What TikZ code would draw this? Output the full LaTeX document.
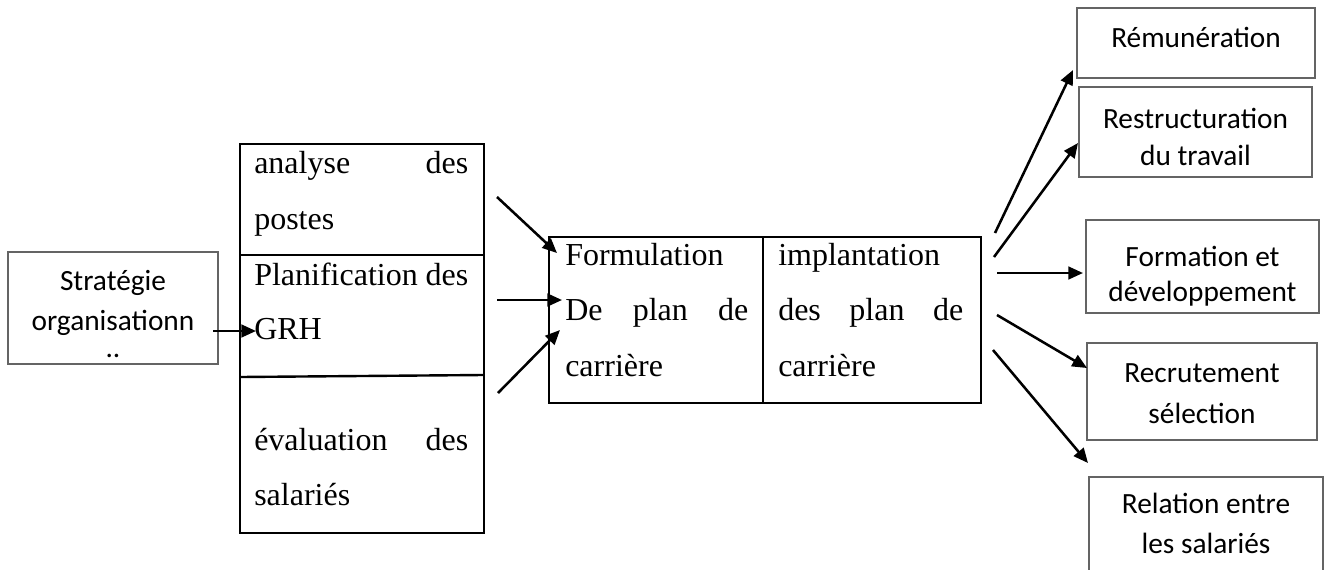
\documentclass[tikz,border=0pt]{standalone}
\usepackage{fontspec}
\setmainfont{Liberation Serif}
\newfontfamily\calibri{Carlito}
\usetikzlibrary{arrows.meta,fit}
\definecolor{boxgray}{RGB}{100,100,100}
\begin{document}
\begin{tikzpicture}[x=0.75pt,y=-0.75pt,
  thinbox/.style={draw=boxgray, line width=0.9pt, inner sep=0pt},
  thickbox/.style={draw=black, line width=1.8pt, inner sep=0pt},
  divider/.style={draw=black, line width=1.8pt},
  arr/.style={line width=1.9pt, -{Triangle[length=11pt,width=9.5pt]}},
  serif/.style={font=\fontsize{24}{28}\selectfont, inner sep=0pt, anchor=base west},
  sans/.style={font=\calibri\fontsize{22}{26}\selectfont, inner sep=0pt, anchor=base}]
\useasboundingbox (0,0) rectangle (1329,569);
\clip (0,0) rectangle (1329,569);

% organisational strategy
\node[thinbox, fit={(8,252) (218,364)}] (strat) {};
\node[sans] (strat1) at (113,290) {Stratégie};
\node[sans] (strat2) at (113,330) {organisationn};
\node[sans] (strat3) at (113,357) {..};

% three-part input column
\node[thickbox, fit={(240,144) (484,533)}] (col) {};
\draw[divider] (240,255) -- (484,255);
\draw[divider] (240,377) -- (483,375);
\node[serif] (t1) at (254,173) {\makebox[160.5pt]{analyse\hfill des}};
\node[serif] (t2) at (254,229) {postes};
\node[serif] (t3) at (254,285) {\makebox[160.5pt]{Planification\hfill des}};
\node[serif] (t4) at (254,339) {GRH};
\node[serif] (t5) at (254,450) {\makebox[160.5pt]{évaluation\hfill des}};
\node[serif] (t6) at (254,505) {salariés};

% career plan box
\node[thickbox, fit={(549,237) (981,403)}] (plan) {};
\draw[divider] (763,237) -- (763,403);
\node[serif] (f1) at (565,265) {Formulation};
\node[serif] (f2) at (565,320) {\makebox[137.25pt]{De\hfill plan\hfill de}};
\node[serif] (f3) at (565,376) {carrière};
\node[serif] (i1) at (778,265) {implantation};
\node[serif] (i2) at (778,320) {\makebox[138.75pt]{des\hfill plan\hfill de}};
\node[serif] (i3) at (778,376) {carrière};

% outcome boxes
\node[thinbox, fit={(1077,8) (1315,78)}] (rem) {};
\node[sans] (rem1) at (1196,47) {Rémunération};
\node[thinbox, fit={(1079,87) (1312,177)}] (restr) {};
\node[sans] (restr1) at (1195.5,128) {Restructuration};
\node[sans] (restr2) at (1195.5,165) {du travail};
\node[thinbox, fit={(1086,220) (1319,313)}] (form) {};
\node[sans] (form1) at (1202.5,266) {Formation et};
\node[sans] (form2) at (1202.5,301) {développement};
\node[thinbox, fit={(1087,343) (1317,440)}] (recr) {};
\node[sans] (recr1) at (1202,382) {Recrutement};
\node[sans] (recr2) at (1202,423) {sélection};
\node[thinbox, fit={(1089,477) (1323,600)}] (rel) {};
\node[sans] (rel1) at (1206,513) {Relation entre};
\node[sans] (rel2) at (1206,553) {les salariés};

% arrow end points
\coordinate (s0) at (213,331);  \coordinate (s1) at (256,331);
\coordinate (a1s) at (497,197); \coordinate (a1e) at (557,253);
\coordinate (a2s) at (497,300); \coordinate (a2e) at (562,300);
\coordinate (a3s) at (498,393); \coordinate (a3e) at (560,330);
\coordinate (r1s) at (995,233); \coordinate (r1e) at (1073,70);
\coordinate (r2s) at (994,257); \coordinate (r2e) at (1078,143);
\coordinate (r3s) at (997,273); \coordinate (r3e) at (1083,273);
\coordinate (r4s) at (997,315); \coordinate (r4e) at (1087,368);
\coordinate (r5s) at (993,350); \coordinate (r5e) at (1088,463);

% arrows
\draw[arr] (s0) -- (s1);
\draw[arr] (a1s) -- (a1e);
\draw[arr] (a2s) -- (a2e);
\draw[arr] (a3s) -- (a3e);
\draw[arr] (r1s) -- (r1e);
\draw[arr] (r2s) -- (r2e);
\draw[arr] (r3s) -- (r3e);
\draw[arr] (r4s) -- (r4e);
\draw[arr] (r5s) -- (r5e);
\end{tikzpicture}
\end{document}
